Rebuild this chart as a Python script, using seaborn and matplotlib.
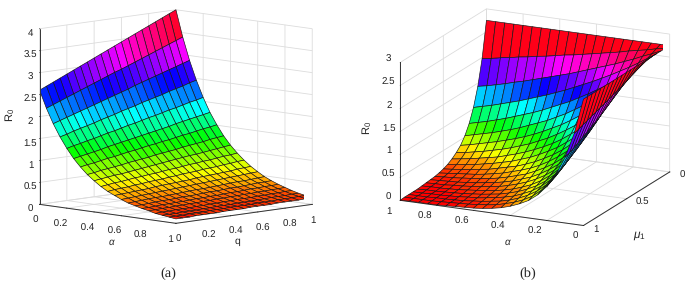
import numpy as np
import seaborn as sns
import matplotlib
matplotlib.use("Agg")
import matplotlib.pyplot as plt
from matplotlib.colors import ListedColormap, Normalize

sns.set_style("white")
plt.rcParams['font.family'] = ['Liberation Sans', 'DejaVu Sans']
plt.rcParams['mathtext.fontset'] = 'custom'
plt.rcParams['mathtext.rm'] = 'Liberation Sans'
plt.rcParams['mathtext.it'] = 'Liberation Sans:italic'
plt.rcParams['text.hinting'] = 'no_hinting'

# panel (a): rows alpha 0..1, columns q 0..1
alpha_a = [0, .05, .1, .15, .2, .25, .3, .35, .4, .45, .5, .55, .6, .65, .7, .75, .8, .85, .9, .95, 1]
q_a = [0, .05, .1, .15, .2, .25, .3, .35, .4, .45, .5, .55, .6, .65, .7, .75, .8, .85, .9, .95, 1]
r0_a = [
    [2.60,2.67,2.74,2.81,2.88,2.95,3.02,3.09,3.16,3.23,3.30,3.37,3.44,3.51,3.58,3.65,3.72,3.79,3.86,3.93,4.00],
    [2.21,2.27,2.33,2.39,2.45,2.51,2.57,2.63,2.69,2.75,2.81,2.86,2.92,2.98,3.04,3.10,3.16,3.22,3.28,3.34,3.40],
    [1.88,1.93,1.98,2.03,2.08,2.13,2.18,2.23,2.28,2.33,2.38,2.43,2.49,2.54,2.59,2.64,2.69,2.74,2.79,2.84,2.89],
    [1.60,1.64,1.69,1.73,1.77,1.81,1.86,1.90,1.94,1.99,2.03,2.07,2.12,2.16,2.20,2.24,2.29,2.33,2.37,2.42,2.46],
    [1.36,1.40,1.43,1.47,1.50,1.54,1.58,1.61,1.65,1.69,1.72,1.76,1.80,1.83,1.87,1.91,1.94,1.98,2.02,2.05,2.09],
    [1.15,1.18,1.21,1.24,1.27,1.31,1.34,1.37,1.40,1.43,1.46,1.49,1.52,1.55,1.58,1.62,1.65,1.68,1.71,1.74,1.77],
    [.98,1.01,1.03,1.06,1.09,1.11,1.14,1.17,1.19,1.22,1.25,1.27,1.30,1.32,1.35,1.38,1.40,1.43,1.46,1.48,1.51],
    [.83,.85,.88,.90,.92,.94,.97,.99,1.01,1.03,1.06,1.08,1.10,1.12,1.15,1.17,1.19,1.21,1.24,1.26,1.28],
    [.71,.73,.75,.77,.78,.80,.82,.84,.86,.88,.90,.92,.94,.96,.98,.99,1.01,1.03,1.05,1.07,1.09],
    [.60,.62,.64,.65,.67,.69,.70,.72,.73,.75,.77,.78,.80,.82,.83,.85,.86,.88,.90,.91,.93],
    [.51,.53,.54,.55,.57,.58,.60,.61,.62,.64,.65,.67,.68,.69,.71,.72,.73,.75,.76,.78,.79],
    [.44,.45,.46,.47,.48,.49,.51,.52,.53,.54,.55,.56,.58,.59,.60,.61,.62,.63,.65,.66,.67],
    [.37,.38,.39,.40,.41,.42,.43,.44,.45,.46,.47,.48,.49,.50,.51,.52,.53,.54,.55,.56,.57],
    [.31,.32,.33,.34,.35,.35,.36,.37,.38,.39,.40,.40,.41,.42,.43,.44,.45,.45,.46,.47,.48],
    [.27,.27,.28,.29,.30,.30,.31,.32,.32,.33,.34,.35,.35,.36,.37,.37,.38,.39,.40,.40,.41],
    [.23,.23,.24,.25,.25,.26,.26,.27,.28,.28,.29,.29,.30,.31,.31,.32,.33,.33,.34,.34,.35],
    [.20,.20,.21,.21,.22,.22,.23,.23,.24,.24,.25,.25,.26,.26,.27,.27,.28,.28,.29,.29,.30],
    [.16,.17,.17,.18,.18,.18,.19,.19,.20,.20,.21,.21,.22,.22,.22,.23,.23,.24,.24,.25,.25],
    [.14,.14,.14,.15,.15,.15,.16,.16,.17,.17,.17,.18,.18,.18,.19,.19,.20,.20,.20,.21,.21],
    [.12,.12,.12,.13,.13,.13,.14,.14,.14,.15,.15,.15,.15,.16,.16,.16,.17,.17,.17,.18,.18],
    [.10,.10,.10,.11,.11,.11,.11,.12,.12,.12,.12,.13,.13,.13,.13,.14,.14,.14,.14,.15,.15],
]

# panel (b): rows mu1 0..1, columns alpha 0..1
alpha_b = [0, .05, .1, .15, .2, .25, .3, .35, .4, .45, .5, .55, .6, .65, .7, .75, .8, .85, .9, .95, 1]
mu1_b = [0, .05, .1, .15, .2, .25, .3, .35, .4, .45, .5, .55, .6, .65, .7, .75, .8, .85, .9, .95, 1]
r0_b = [
    [2.75,2.75,2.75,2.75,2.75,2.75,2.75,2.75,2.75,2.75,2.75,2.75,2.75,2.75,2.75,2.75,2.75,2.75,2.75,2.75,2.75],
    [2.75,2.71,2.66,2.62,2.58,2.53,2.49,2.45,2.41,2.37,2.33,2.30,2.26,2.22,2.19,2.15,2.12,2.08,2.05,2.01,1.98],
    [2.75,2.66,2.58,2.49,2.41,2.33,2.26,2.19,2.12,2.05,1.98,1.92,1.86,1.80,1.74,1.68,1.63,1.57,1.52,1.47,1.43],
    [2.75,2.62,2.49,2.37,2.26,2.15,2.05,1.95,1.86,1.77,1.68,1.60,1.52,1.45,1.38,1.31,1.25,1.19,1.13,1.08,1.03],
    [2.75,2.58,2.41,2.26,2.12,1.98,1.86,1.74,1.63,1.52,1.43,1.34,1.25,1.17,1.10,1.03,.96,.90,.84,.79,.74],
    [2.75,2.53,2.33,2.15,1.98,1.82,1.68,1.55,1.43,1.31,1.21,1.11,1.03,.95,.87,.80,.74,.68,.63,.58,.53],
    [2.75,2.49,2.26,2.05,1.86,1.68,1.52,1.38,1.25,1.13,1.03,.93,.84,.76,.69,.63,.57,.52,.47,.42,.38],
    [2.75,2.45,2.19,1.95,1.74,1.55,1.38,1.23,1.10,.98,.87,.78,.69,.62,.55,.49,.44,.39,.35,.31,.28],
    [2.75,2.41,2.12,1.85,1.63,1.43,1.25,1.10,.96,.84,.74,.65,.57,.50,.44,.38,.34,.30,.26,.23,.20],
    [2.75,2.37,2.05,1.77,1.52,1.31,1.13,.98,.84,.73,.63,.54,.47,.40,.35,.30,.26,.22,.19,.17,.14],
    [2.75,2.33,1.98,1.68,1.43,1.21,1.03,.87,.74,.63,.53,.45,.38,.33,.28,.23,.20,.17,.14,.12,.10],
    [2.75,2.30,1.92,1.60,1.34,1.11,.93,.78,.65,.54,.45,.38,.32,.26,.22,.18,.15,.13,.11,.09,.07],
    [2.75,2.26,1.85,1.52,1.25,1.03,.84,.69,.57,.47,.38,.32,.26,.21,.17,.14,.12,.10,.08,.07,.05],
    [2.75,2.22,1.79,1.45,1.17,.95,.76,.62,.50,.40,.33,.26,.21,.17,.14,.11,.09,.07,.06,.05,.04],
    [2.75,2.19,1.74,1.38,1.10,.87,.69,.55,.44,.35,.28,.22,.17,.14,.11,.09,.07,.06,.04,.04,.03],
    [2.75,2.15,1.68,1.31,1.03,.80,.63,.49,.38,.30,.23,.18,.14,.11,.09,.07,.05,.04,.03,.03,.02],
    [2.75,2.12,1.63,1.25,.96,.74,.57,.44,.34,.26,.20,.15,.12,.09,.07,.05,.04,.03,.02,.02,.01],
    [2.75,2.08,1.57,1.19,.90,.68,.52,.39,.30,.22,.17,.13,.10,.07,.06,.04,.03,.02,.02,.01,.01],
    [2.75,2.05,1.52,1.13,.84,.63,.47,.35,.26,.19,.14,.11,.08,.06,.04,.03,.02,.02,.01,.01,.01],
    [2.75,2.01,1.47,1.08,.79,.58,.42,.31,.23,.17,.12,.09,.07,.05,.04,.03,.02,.01,.01,.01,.01],
    [2.75,1.98,1.43,1.03,.74,.53,.38,.28,.20,.14,.10,.07,.05,.04,.03,.02,.01,.01,.01,.01,0],
]

ticks_unit = [0, .2, .4, .6, .8, 1]
# the spaces nudge labels, "1" and "0" of panel (a) read as 10 in the original
alpha_labels_a = ['   0', ' 0.2', ' 0.4', ' 0.6', '0.8', '  1']
q_labels_a = ['0    ', '0.2  ', '0.4  ', '0.6  ', '0.8  ', '1     ']
alpha_labels_b = ['0 ', '0.2 ', '0.4 ', '0.6 ', '0.8 ', '1  ']
ticks_mu = [0, .5, 1]
ticks_mu_labels = ['0', '0.5', '1']
ticks_za = [0, .5, 1, 1.5, 2, 2.5, 3, 3.5, 4]
ticks_za_labels = ['0', '0.5', '1', '1.5', '2', '2.5', '3', '3.5', '4']
ticks_zb = [0, .5, 1, 1.5, 2, 2.5, 3]
ticks_zb_labels = ['0', '0.5', '1', '1.5', '2', '2.5', '3']

hsv64 = ListedColormap(sns.hls_palette(64, h=0, l=.5, s=1))


def style_axis(ax):
    ax.set_proj_type('ortho')
    for axis in (ax.xaxis, ax.yaxis, ax.zaxis):
        axis.set_pane_color((1, 1, 1, 0))
        axis.pane.set_edgecolor('#d9d9d9')
        axis.line.set_color('#333333')
        axis.line.set_linewidth(.7)
        axis._axinfo['grid']['color'] = '#dcdcdc'
        axis._axinfo['grid']['linewidth'] = .6
        axis._axinfo['tick']['inward_factor'] = .02
        axis._axinfo['tick']['outward_factor'] = 0
        axis._axinfo['tick']['linewidth'] = {True: .6, False: .4}
        axis._axinfo['tick']['color'] = '#333333'
    ax.tick_params(labelsize=7, colors='#222222')
    ax.set_facecolor('none')
    # z axis on the left corner, as in the MATLAB figure
    ax.zaxis._axinfo['juggled'] = (1, 2, 0)


def draw_surface(ax, xs, ys, zs, zmax):
    X, Y = np.meshgrid(xs, ys)
    Z = np.array(zs)
    colors = hsv64(Normalize(0, zmax)(Z))
    ax.plot_surface(X, Y, Z, facecolors=colors, rstride=1, cstride=1, shade=False,
                    edgecolor='#151515', linewidth=.45, antialiased=True)


fig = plt.figure(figsize=(6.95, 2.86), dpi=100)

# panel (a)
ax1 = fig.add_axes([-0.002, 0.1201, 0.5, 0.92], projection='3d')
ax1.view_init(elev=8, azim=-45)
ax1.set_box_aspect((1, 1, .92), zoom=1.2)
style_axis(ax1)
# r0_a has alpha in rows, the x axis is alpha so swap it round
draw_surface(ax1, alpha_a, q_a, np.array(r0_a).T, 4)

# panel (b)
ax2 = fig.add_axes([0.5146, 0.1178, 0.5, 0.92], projection='3d')
ax2.view_init(elev=17, azim=115.2)
ax2.set_box_aspect((1, 1, .7118), zoom=1.183)
style_axis(ax2)
draw_surface(ax2, alpha_b, mu1_b, r0_b, 2.75)

ax1.set_xlim(0, 1); ax1.set_ylim(0, 1); ax1.set_zlim(0, 4)
ax2.set_xlim(0, 1); ax2.set_ylim(0, 1); ax2.set_zlim(0, 3)
ax1.set_xticks(ticks_unit, alpha_labels_a)
ax1.set_yticks(ticks_unit, q_labels_a)
ax1.set_zticks(ticks_za, ticks_za_labels)
ax2.set_xticks(ticks_unit, alpha_labels_b, ha='right')
ax2.set_yticks(ticks_mu, ticks_mu_labels, ha='left', va='bottom')
ax2.set_zticks(ticks_zb, ticks_zb_labels, va='bottom')
ax1.tick_params(axis='x', pad=-2.3)
ax1.tick_params(axis='y', pad=-2.3)
ax1.tick_params(axis='z', pad=-4.7)
ax2.tick_params(axis='x', pad=-4.9)
ax2.tick_params(axis='y', pad=-2.9)
ax2.tick_params(axis='z', pad=-3.8)

fig.text(112/695, 1-242/286, r'$\alpha$', ha='center', va='center', fontsize=7)
fig.text(237/695, 1-241/286, 'q', ha='center', va='center', fontsize=7.5)
fig.text(10/695, 1-115/286, r'R$_0$', ha='center', va='center', rotation=90, fontsize=8)
fig.text(508/695, 1-242/286, r'$\alpha$', ha='center', va='center', fontsize=7)
fig.text(639/695, 1-236/286, r'$\mu_1$', ha='center', va='center', fontsize=8.5)
fig.text(367/695, 1-128/286, r'R$_0$', ha='center', va='center', rotation=90, fontsize=8)
fig.text(168/695, 1-274/286, '(a)', ha='center', va='center', fontsize=10.4, family='Liberation Serif')
fig.text(528/695, 1-274/286, '(b)', ha='center', va='center', fontsize=10.4, family='Liberation Serif')

fig.savefig('out.png', dpi=100)
